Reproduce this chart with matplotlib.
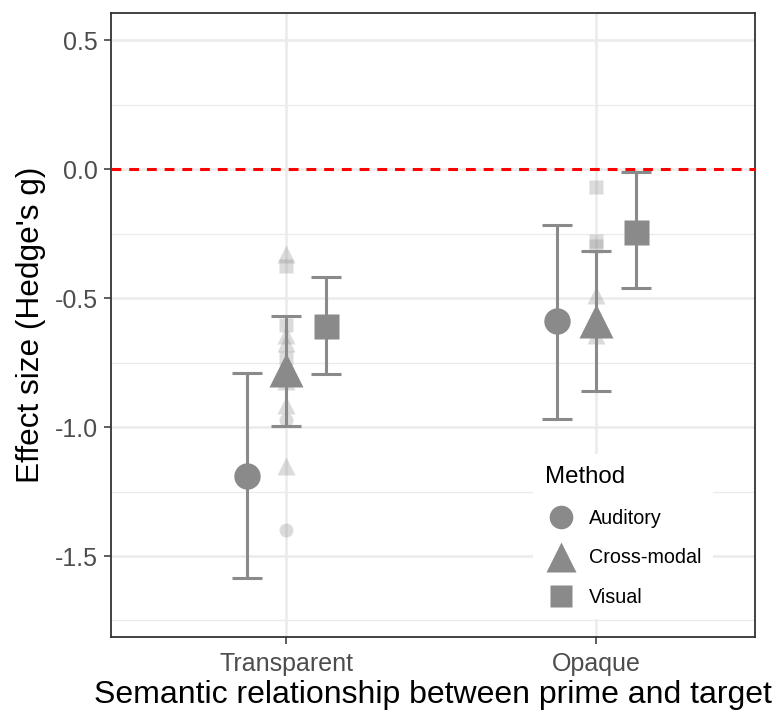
import numpy as np
import matplotlib
matplotlib.use("Agg")
from matplotlib import pyplot as plt
from matplotlib.lines import Line2D

plt.rcParams['font.family'] = ['Liberation Sans', 'DejaVu Sans']

# summary estimates per relationship x method
relations = ['Transparent', 'Opaque']
methods = ['Auditory', 'Cross-modal', 'Visual']
means = {'Auditory': [-1.19, -0.59],
         'Cross-modal': [-0.78, -0.59],
         'Visual': [-0.61, -0.245]}
ci_low = {'Auditory': [-1.587, -0.969],
          'Cross-modal': [-0.996, -0.861],
          'Visual': [-0.795, -0.46]}
ci_high = {'Auditory': [-0.79, -0.216],
           'Cross-modal': [-0.571, -0.317],
           'Visual': [-0.42, -0.012]}

# individual study effects (faint points at category centre)
study_rel = ['Transparent'] * 11 + ['Opaque'] * 7
study_method = ['Cross-modal', 'Visual', 'Visual', 'Cross-modal', 'Cross-modal',
                'Visual', 'Cross-modal', 'Cross-modal', 'Auditory', 'Cross-modal',
                'Auditory',
                'Visual', 'Visual', 'Visual', 'Cross-modal', 'Cross-modal',
                'Cross-modal', 'Auditory']
study_g = [-0.33, -0.375, -0.606, -0.645, -0.676, -0.733, -0.823, -0.914,
           -0.973, -1.15, -1.40,
           -0.07, -0.278, -0.30, -0.49, -0.645, -0.57, -0.60]

markers = {'Auditory': 'o', 'Cross-modal': '^', 'Visual': 's'}
big = {'Auditory': 19, 'Cross-modal': 24, 'Visual': 18}
small = {'Auditory': 10, 'Cross-modal': 13, 'Visual': 10}
leg_ms = {'Auditory': 17, 'Cross-modal': 22, 'Visual': 16}
offset = {'Auditory': -0.125, 'Cross-modal': 0.0, 'Visual': 0.128}
grey = '#8a8a8a'

fig = plt.figure(figsize=(7.77, 7.13), dpi=100)
ax = fig.add_axes([111 / 777, 1 - 637 / 713, 644 / 777, 624 / 713])

xpos = {r: i + 1 for i, r in enumerate(relations)}

# faint study points
for r, m, g in zip(study_rel, study_method, study_g):
    ax.plot(xpos[r], g, marker=markers[m], ms=small[m], color=grey,
            alpha=0.3, mec='none', ls='none', zorder=2)

ax.axhline(0, color='#ff0000', ls=(0, (3.2, 2.6)), lw=2.2, zorder=3)

for m in methods:
    x = np.array([xpos[r] for r in relations]) + offset[m]
    y = np.array(means[m])
    lo = y - np.array(ci_low[m])
    hi = np.array(ci_high[m]) - y
    ax.errorbar(x, y, yerr=[lo, hi], fmt='none', ecolor=grey, elinewidth=2.2,
                capsize=10.5, capthick=2.2, zorder=4)
    ax.plot(x, y, marker=markers[m], ms=big[m], color=grey, mec='none',
            ls='none', zorder=5)

ax.set_xlim(0.435, 2.513)
ax.set_ylim(-1.814, 0.605)
ax.set_xticks([1, 2])
ax.set_xticklabels(relations)
ax.set_yticks([0.5, 0.0, -0.5, -1.0, -1.5])
ax.set_yticklabels(['0.5', '0.0', '-0.5', '-1.0', '-1.5'])
ax.set_yticks([0.25, -0.25, -0.75, -1.25, -1.75], minor=True)
ax.grid(True, which='major', color='#ebebeb', lw=1.8, zorder=0)
ax.grid(True, which='minor', axis='y', color='#ebebeb', lw=0.9, zorder=0)
ax.set_axisbelow(True)
ax.tick_params(axis='both', which='major', labelsize=18, labelcolor='#4d4d4d',
               color='#333333', length=5, width=1.1, pad=4.5)
ax.tick_params(axis='x', which='major', pad=6)
ax.tick_params(axis='y', which='minor', length=0)
for s in ax.spines.values():
    s.set_color('#333333')
    s.set_linewidth(1.3)

ax.set_ylabel("Effect size (Hedge's g)", fontsize=22.7, labelpad=6)
ax.set_xlabel('Semantic relationship between prime and target', fontsize=23,
              labelpad=3)

handles = [Line2D([], [], marker=markers[m], ms=leg_ms[m], color=grey,
                  mec='none', ls='none') for m in methods]
leg = ax.legend(handles, methods, title='Method', loc='lower right',
                bbox_to_anchor=(0.95, 0.013), frameon=True, fontsize=14.2,
                title_fontsize=17.3, handletextpad=0.6, labelspacing=1.05,
                borderpad=0.6, handlelength=1.6)
leg.get_frame().set_edgecolor('none')
leg.get_frame().set_facecolor('white')
leg.get_frame().set_alpha(1)
leg._legend_box.align = 'left'

fig.savefig('out.png', dpi=100)
